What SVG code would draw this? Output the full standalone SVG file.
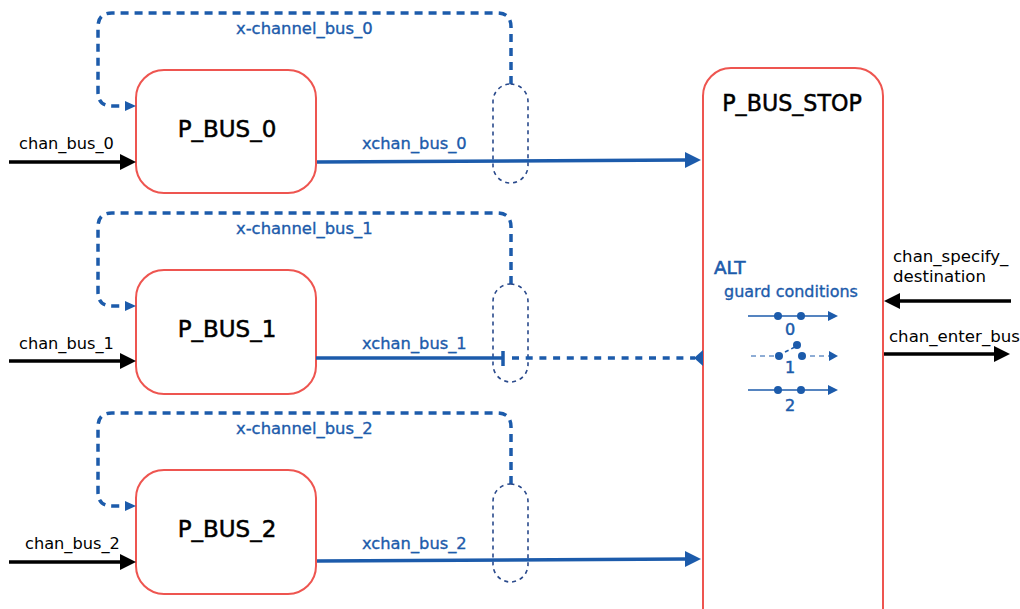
<svg xmlns="http://www.w3.org/2000/svg" width="1020" height="609" viewBox="0 0 1020 609">
<style>
text{font-family:"DejaVu Sans","Noto Sans",sans-serif}
.box{fill:#fff;stroke:#ee5550;stroke-width:2}
.title{font-size:23px;fill:#000;text-anchor:middle;stroke:#000;stroke-width:.5}
.lb{font-size:16.2px;fill:#000}
.lbw{font-size:16.6px;fill:#000}
.bl{font-size:16.3px;fill:#1c5bab;stroke:#1c5bab;stroke-width:.35}
.xc{font-size:16.4px;fill:#1c5bab;stroke:#1c5bab;stroke-width:.35}
.num{font-size:16px;fill:#1c5bab;stroke:#1c5bab;stroke-width:.5;text-anchor:middle}
.bk{stroke:#000;stroke-width:3.5;fill:none}
.bus{stroke:#1c5bab;stroke-width:3.5;fill:none}
.loop{stroke:#1c5bab;stroke-width:3.5;fill:none;stroke-dasharray:8 6}
.pill{fill:none;stroke:#2a4a8c;stroke-width:1.6;stroke-dasharray:4 4}
.head{fill:#000}
.bh{fill:#1c5bab}
.thin{stroke:#1c5bab;stroke-width:1.6;fill:none}
.thind{stroke:#1c5bab;stroke-width:1;fill:none;stroke-dasharray:5 4}
</style>
<g id="P_BUS_0"><rect class="box" x="136" y="70" width="180" height="123" rx="28"/><text class="title" x="227" y="137">P_BUS_0</text></g>
<g id="P_BUS_1"><rect class="box" x="136" y="270" width="180" height="124" rx="28"/><text class="title" x="227" y="337">P_BUS_1</text></g>
<g id="P_BUS_2"><rect class="box" x="136" y="470" width="180" height="124" rx="28"/><text class="title" x="227" y="537">P_BUS_2</text></g>
<g id="P_BUS_STOP"><path class="box" d="M703 625V96a28 28 0 0 1 28-28h124a28 28 0 0 1 28 28V625"/><text class="title" x="792" y="111" style="font-size:22.2px">P_BUS_STOP</text>
<text x="714" y="274" style="font-size:18.4px;fill:#1c5bab;stroke:#1c5bab;stroke-width:.6">ALT</text>
<text x="724" y="297" style="font-size:16px;fill:#1c5bab;stroke:#1c5bab;stroke-width:.35">guard conditions</text>
</g>
<g id="connectors">
<path class="bk" d="M9 162H122"/><path class="head" d="M120 154L136 162L120 170Z"/>
<path class="bk" d="M9 361H122"/><path class="head" d="M120 353L136 361L120 369Z"/>
<path class="bk" d="M9 562H122"/><path class="head" d="M120 554L136 562L120 570Z"/>
<path class="bk" d="M1011 301H896"/><path class="head" d="M900 293L884 301L900 309Z"/>
<path class="bk" d="M884 354H996"/><path class="head" d="M994 346L1010 354L994 362Z"/>
<path class="loop" d="M511 84V27Q511 13 497 13H112Q98 13 98 27V92Q98 106 112 106H124"/><path class="bh" d="M125 101L136 106L125 111Z"/>
<path class="loop" d="M511 284V227Q511 213 497 213H112Q98 213 98 227V292Q98 306 112 306H124"/><path class="bh" d="M125 301L136 306L125 311Z"/>
<path class="loop" d="M511 484V427Q511 413 497 413H112Q98 413 98 427V492Q98 506 112 506H124"/><path class="bh" d="M125 501L136 506L125 511Z"/>
<rect class="pill" x="493" y="84" width="35" height="99" rx="17.5"/>
<rect class="pill" x="493" y="284" width="35" height="98" rx="17.5"/>
<rect class="pill" x="493" y="484" width="35" height="98" rx="17.5"/>
<path class="bus" d="M317 162L686 160"/><path class="bh" d="M685 152L701 160L685 168Z"/>
<path class="bus" d="M316 358H503"/><path class="bus" d="M503 351V366"/>
<path class="bus" d="M512 358H695" stroke-dasharray="7 6.7"/><path class="bh" d="M703 350L694 358L703 366Z"/>
<path class="bus" d="M317 561L686 559"/><path class="bh" d="M685 551L701 559L685 567Z"/>
<path class="thin" d="M748 316H830"/><path class="bh" d="M828 311L838 316L828 321Z"/>
<circle class="bh" cx="778" cy="316" r="4"/><circle class="bh" cx="801" cy="316" r="4"/>
<path class="thind" d="M751 356H774M810 356H830"/><path class="bh" d="M829 351L838 356L829 361Z"/>
<circle class="bh" cx="779" cy="356" r="4"/><circle class="bh" cx="802" cy="356" r="4"/><circle class="bh" cx="797" cy="345" r="4"/>
<path class="thin" d="M785 352L795 347" stroke-dasharray="4 3"/>
<path class="thin" d="M748 390H830"/><path class="bh" d="M828 385L838 390L828 395Z"/>
<circle class="bh" cx="778" cy="390" r="4"/><circle class="bh" cx="801" cy="390" r="4"/>
</g>
<g id="labels">
<text class="lb" x="19" y="149">chan_bus_0</text>
<text class="lb" x="19" y="349">chan_bus_1</text>
<text class="lb" x="25" y="549">chan_bus_2</text>
<text class="lbw" x="893" y="262">chan_specify_</text>
<text class="lbw" x="893" y="282">destination</text>
<text class="lbw" x="889" y="342">chan_enter_bus</text>
<text class="xc" x="236" y="34">x-channel_bus_0</text>
<text class="xc" x="236" y="234">x-channel_bus_1</text>
<text class="xc" x="236" y="434">x-channel_bus_2</text>
<text class="bl" x="362" y="149">xchan_bus_0</text>
<text class="bl" x="362" y="349">xchan_bus_1</text>
<text class="bl" x="362" y="549">xchan_bus_2</text>
<text class="num" x="790" y="335">0</text>
<text class="num" x="790" y="373">1</text>
<text class="num" x="790" y="411">2</text>
</g>
</svg>
